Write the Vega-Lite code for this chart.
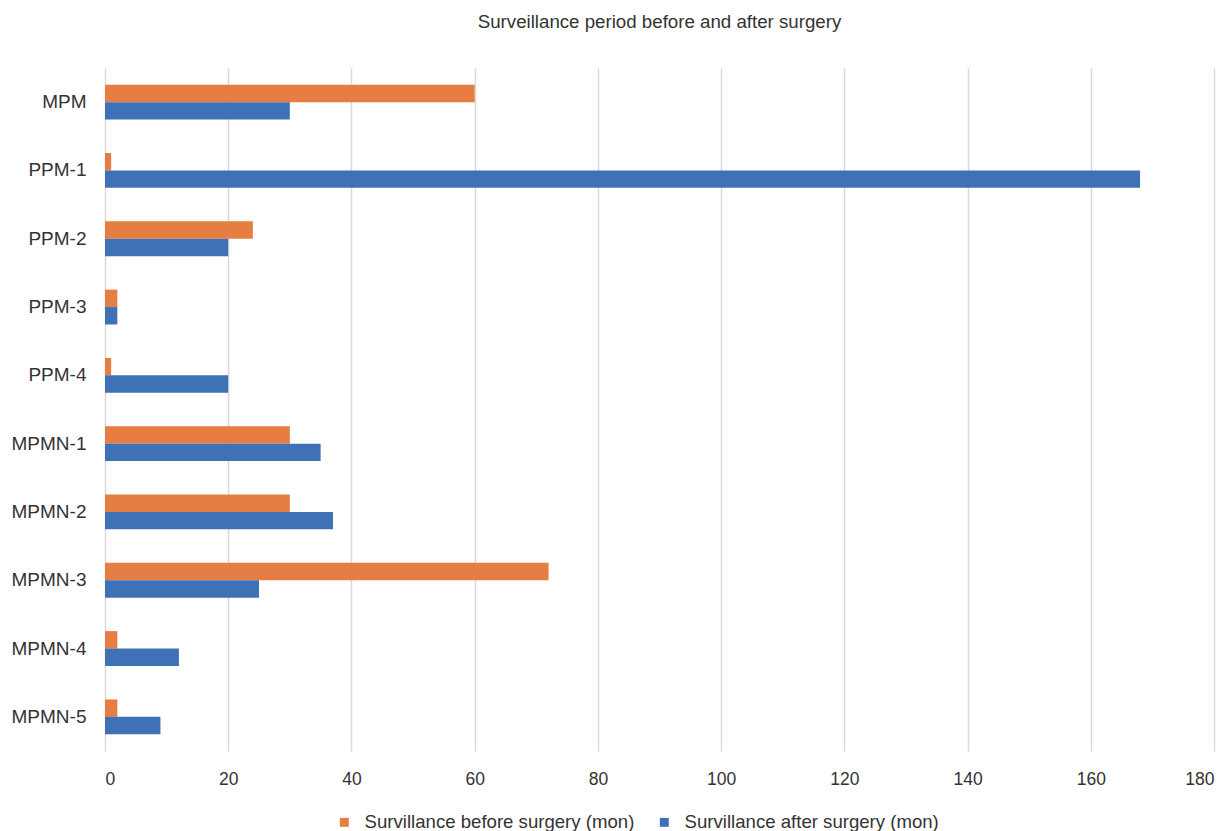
{
  "$schema": "https://vega.github.io/schema/vega-lite/v6.json",
  "autosize": "none",
  "width": 1109,
  "height": 683,
  "padding": {"left": 105, "top": 68, "right": 15, "bottom": 80},
  "background": "white",
  "config": {
    "font": "Liberation Sans",
    "view": {"stroke": null}
  },
  "title": {
    "text": "Surveillance period before and after surgery",
    "fontSize": 18.7,
    "fontWeight": "normal",
    "color": "#333333",
    "anchor": "middle",
    "offset": 36
  },
  "data": {
    "values": [
      {"case": "MPM", "series": "Survillance before surgery (mon)", "months": 60},
      {"case": "MPM", "series": "Survillance after surgery (mon)", "months": 30},
      {"case": "PPM-1", "series": "Survillance before surgery (mon)", "months": 1},
      {"case": "PPM-1", "series": "Survillance after surgery (mon)", "months": 168},
      {"case": "PPM-2", "series": "Survillance before surgery (mon)", "months": 24},
      {"case": "PPM-2", "series": "Survillance after surgery (mon)", "months": 20},
      {"case": "PPM-3", "series": "Survillance before surgery (mon)", "months": 2},
      {"case": "PPM-3", "series": "Survillance after surgery (mon)", "months": 2},
      {"case": "PPM-4", "series": "Survillance before surgery (mon)", "months": 1},
      {"case": "PPM-4", "series": "Survillance after surgery (mon)", "months": 20},
      {"case": "MPMN-1", "series": "Survillance before surgery (mon)", "months": 30},
      {"case": "MPMN-1", "series": "Survillance after surgery (mon)", "months": 35},
      {"case": "MPMN-2", "series": "Survillance before surgery (mon)", "months": 30},
      {"case": "MPMN-2", "series": "Survillance after surgery (mon)", "months": 37},
      {"case": "MPMN-3", "series": "Survillance before surgery (mon)", "months": 72},
      {"case": "MPMN-3", "series": "Survillance after surgery (mon)", "months": 25},
      {"case": "MPMN-4", "series": "Survillance before surgery (mon)", "months": 2},
      {"case": "MPMN-4", "series": "Survillance after surgery (mon)", "months": 12},
      {"case": "MPMN-5", "series": "Survillance before surgery (mon)", "months": 2},
      {"case": "MPMN-5", "series": "Survillance after surgery (mon)", "months": 9}
    ]
  },
  "mark": {"type": "bar"},
  "encoding": {
    "y": {
      "field": "case",
      "type": "nominal",
      "sort": null,
      "title": null,
      "scale": {"paddingInner": 0.49, "paddingOuter": 0.245},
      "axis": {
        "domain": false,
        "ticks": false,
        "labelFontSize": 19,
        "labelColor": "#333333",
        "labelPadding": 19
      }
    },
    "yOffset": {
      "field": "series",
      "type": "nominal",
      "sort": ["Survillance before surgery (mon)", "Survillance after surgery (mon)"],
      "scale": {"paddingInner": 0, "paddingOuter": 0}
    },
    "x": {
      "field": "months",
      "type": "quantitative",
      "title": null,
      "scale": {"domain": [0, 180], "nice": false},
      "axis": {
        "values": [0, 20, 40, 60, 80, 100, 120, 140, 160, 180],
        "domain": false,
        "ticks": false,
        "grid": true,
        "gridColor": "#d9d9d9",
        "gridWidth": 1.5,
        "labelFontSize": 17.5,
        "labelColor": "#333333",
        "labelPadding": 19
      }
    },
    "color": {
      "field": "series",
      "type": "nominal",
      "sort": ["Survillance before surgery (mon)", "Survillance after surgery (mon)"],
      "scale": {"range": ["#E67E43", "#3F71B6"]},
      "legend": {
        "orient": "none",
        "legendX": 230,
        "legendY": 745,
        "direction": "horizontal",
        "title": null,
        "symbolType": "square",
        "symbolSize": 80,
        "symbolOffset": 0,
        "labelFontSize": 18.6,
        "labelColor": "#333333",
        "labelLimit": 500,
        "labelOffset": 11,
        "columnPadding": 20
      }
    }
  }
}
